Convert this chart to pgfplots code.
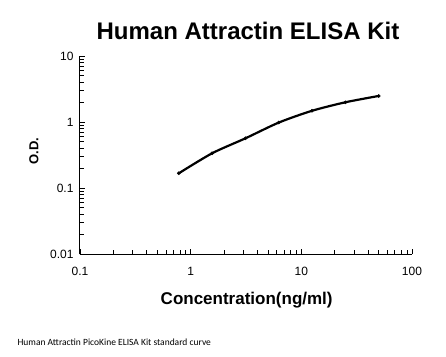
\documentclass[border=0pt]{standalone}
\usepackage{pgfplots}
\pgfplotsset{compat=1.18}
\usepackage{fontspec}
\setmainfont{Liberation Sans}
\newfontfamily\calib{Carlito}
\begin{document}
\begin{tikzpicture}[x=1pt,y=1pt]
\path (0,0) rectangle (446,356);
\begin{axis}[
  at={(80pt,102pt)}, anchor=south west,
  scale only axis, width=332pt, height=198pt,
  xmode=log, ymode=log,
  xmin=0.1, xmax=100, ymin=0.01, ymax=10,
  axis x line*=bottom, axis y line*=left,
  axis line style={line width=1pt, -},
  tick style={black, line width=0.8pt},
  tick align=inside,
  major tick length=5pt, minor tick length=4pt,
  xtick={0.1,1,10,100}, xticklabels={0.1,1,10,100},
  ytick={0.01,0.1,1,10}, yticklabels={0.01,0.1,1,10},
  tick label style={font=\fontsize{12}{14}\selectfont},
  xticklabel style={yshift=-10pt},
  yticklabel style={xshift=-3pt},
  title={Human Attractin ELISA Kit},
  title style={font=\fontsize{24}{28}\selectfont\bfseries, at={(axis description cs:0.506,1.096)}, anchor=center},
  xlabel={Concentration(ng/ml)},
  xlabel style={font=\fontsize{17}{20}\selectfont\bfseries, at={(axis description cs:0.502,-0.232)}, anchor=center},
  ylabel={O.D.},
  ylabel style={font=\fontsize{13}{15}\selectfont\bfseries, at={(axis description cs:-0.139,0.52)}, anchor=center},
  clip=false,
]
\addplot[black, line width=2.2pt, smooth, tension=0.45, mark=*, mark size=1.6pt, mark options={line width=0.4pt}]
  coordinates {(0.78125,0.167) (1.5625,0.336) (3.125,0.566) (6.25,0.98) (12.5,1.48) (25,1.99) (50,2.48)};
\end{axis}
\node[anchor=west, font=\calib\fontsize{9.5}{11}\selectfont] at (14,14) {Human Attractin PicoKine ELISA Kit standard curve};
\end{tikzpicture}
\end{document}
